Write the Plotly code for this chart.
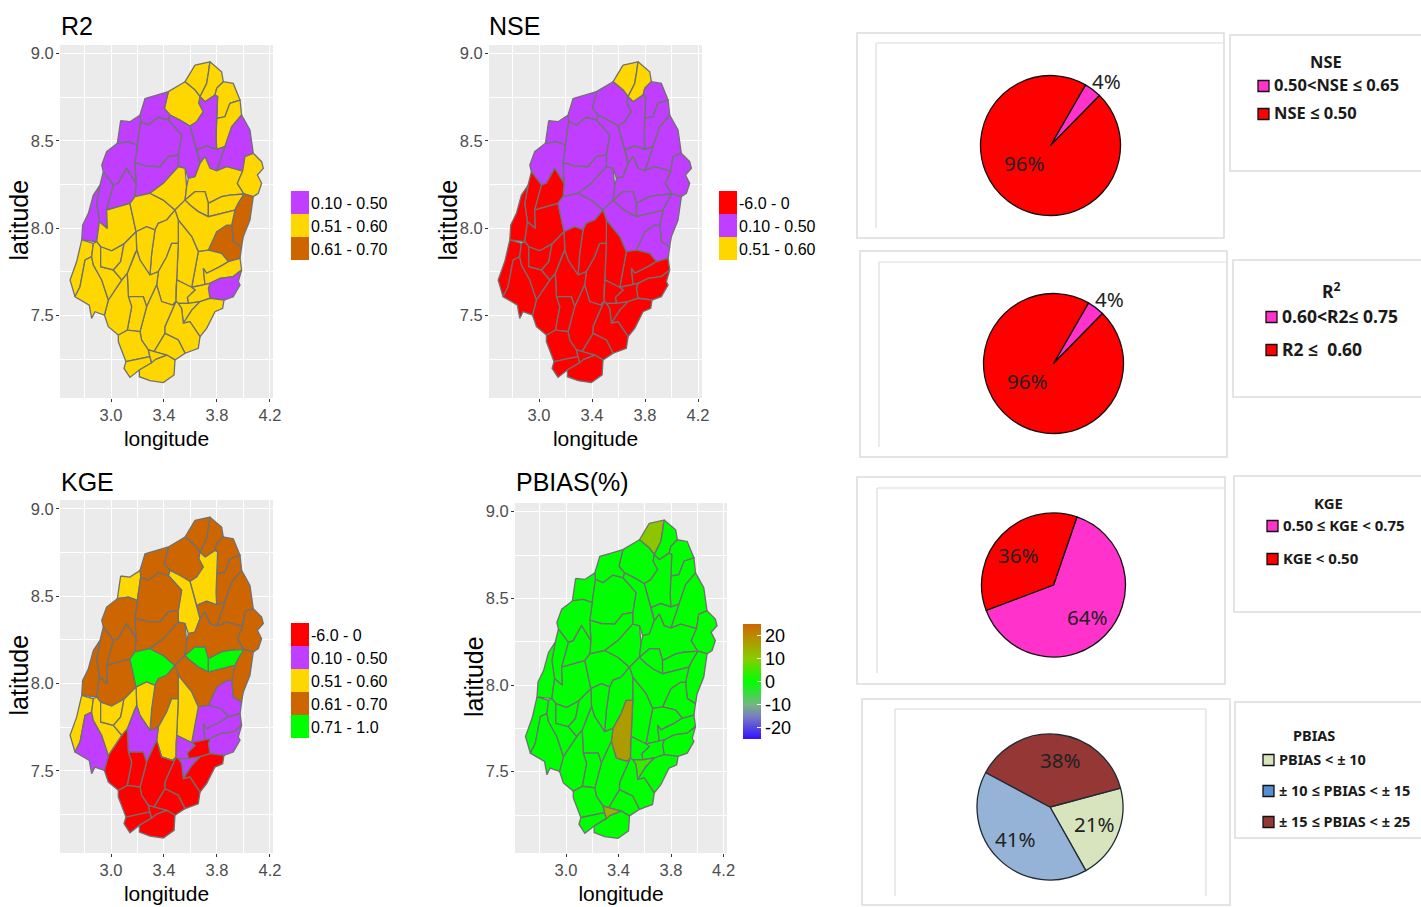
import plotly.graph_objects as go
from plotly.colors import sample_colorscale

# ---- sub-basin outlines as (longitude, latitude) pairs ----
B01 = [(3.634,8.933),(3.747,8.952),(3.735,8.886),(3.722,8.828),(3.672,8.752),(3.634,8.790),(3.559,8.838)]
B02 = [(3.747,8.952),(3.835,8.895),(3.848,8.838),(3.798,8.800),(3.785,8.761),(3.710,8.723),(3.672,8.752),(3.722,8.828),(3.735,8.886)]
B03 = [(3.433,8.781),(3.559,8.838),(3.634,8.790),(3.672,8.752),(3.664,8.714),(3.697,8.666),(3.647,8.609),(3.596,8.584),(3.521,8.618),(3.445,8.647),(3.403,8.685)]
B04 = [(3.798,8.800),(3.848,8.838),(3.923,8.828),(3.974,8.733),(3.898,8.714),(3.860,8.637),(3.798,8.628),(3.805,8.752),(3.785,8.761)]
B05 = [(3.898,8.714),(3.974,8.733),(3.986,8.647),(3.911,8.580),(3.860,8.466),(3.798,8.450),(3.793,8.523),(3.798,8.628),(3.860,8.637)]
B06 = [(3.710,8.723),(3.785,8.761),(3.805,8.752),(3.798,8.628),(3.793,8.523),(3.798,8.450),(3.722,8.470),(3.647,8.447),(3.596,8.584),(3.647,8.609),(3.697,8.666),(3.664,8.714),(3.672,8.752)]
B07 = [(3.986,8.647),(4.049,8.561),(4.074,8.428),(4.011,8.409),(3.994,8.326),(3.873,8.351),(3.798,8.328),(3.860,8.466),(3.911,8.580)]
B08 = [(3.647,8.447),(3.722,8.470),(3.798,8.450),(3.860,8.466),(3.798,8.328),(3.747,8.342),(3.710,8.409),(3.672,8.370),(3.659,8.418)]
B09 = [(3.445,8.647),(3.521,8.618),(3.596,8.584),(3.647,8.447),(3.659,8.418),(3.672,8.370),(3.634,8.294),(3.584,8.285),(3.559,8.342),(3.508,8.351),(3.508,8.418),(3.533,8.533),(3.433,8.618)]
B10 = [(3.219,8.647),(3.257,8.742),(3.345,8.761),(3.433,8.781),(3.403,8.685),(3.445,8.647),(3.433,8.618),(3.357,8.634),(3.282,8.590),(3.224,8.609)]
B11 = [(3.073,8.615),(3.143,8.609),(3.219,8.647),(3.224,8.609),(3.199,8.475),(3.131,8.494),(3.048,8.485)]
B12 = [(3.224,8.609),(3.282,8.590),(3.357,8.634),(3.433,8.618),(3.533,8.533),(3.508,8.418),(3.433,8.409),(3.370,8.351),(3.269,8.355),(3.181,8.374),(3.199,8.475)]
B13 = [(3.181,8.374),(3.269,8.355),(3.370,8.351),(3.433,8.409),(3.508,8.418),(3.508,8.351),(3.395,8.256),(3.294,8.199),(3.181,8.180),(3.189,8.256)]
B14 = [(3.048,8.485),(3.131,8.494),(3.199,8.475),(3.181,8.374),(3.189,8.256),(3.118,8.342),(3.055,8.256),(3.018,8.246),(2.942,8.323),(2.930,8.361),(2.967,8.437)]
B15 = [(2.942,8.323),(3.018,8.246),(2.967,8.103),(2.972,7.998),(2.912,8.036),(2.892,8.141),(2.917,8.246)]
B16 = [(3.018,8.246),(3.055,8.256),(3.118,8.342),(3.189,8.256),(3.181,8.180),(3.143,8.141),(3.055,8.122),(2.967,8.103)]
B17 = [(2.867,8.189),(2.917,8.246),(2.892,8.141),(2.912,8.036),(2.892,7.922),(2.779,7.932),(2.786,8.017),(2.829,8.084)]
B18 = [(2.912,8.036),(2.972,7.998),(2.967,8.103),(3.055,8.122),(3.143,8.141),(3.189,7.979),(3.098,7.909),(3.005,7.870),(2.922,7.893),(2.892,7.922)]
B19 = [(3.143,8.141),(3.181,8.180),(3.294,8.199),(3.395,8.160),(3.483,8.103),(3.420,8.046),(3.357,8.027),(3.332,7.989),(3.269,8.008),(3.189,7.979)]
B20 = [(3.294,8.199),(3.395,8.256),(3.508,8.351),(3.559,8.342),(3.571,8.237),(3.559,8.160),(3.483,8.103),(3.395,8.160)]
B21 = [(3.584,8.285),(3.634,8.294),(3.672,8.370),(3.710,8.409),(3.747,8.342),(3.798,8.328),(3.873,8.351),(3.994,8.326),(3.954,8.256),(4.004,8.195),(3.898,8.189),(3.835,8.180),(3.735,8.141),(3.710,8.208),(3.634,8.208),(3.559,8.160),(3.571,8.237)]
B22 = [(3.559,8.160),(3.634,8.208),(3.710,8.208),(3.735,8.141),(3.735,8.065),(3.659,8.094),(3.596,8.132)]
B23 = [(3.735,8.141),(3.835,8.180),(3.898,8.189),(4.004,8.195),(3.961,8.141),(3.936,8.103),(3.735,8.065)]
B24 = [(3.994,8.326),(4.011,8.409),(4.074,8.428),(4.137,8.380),(4.150,8.342),(4.105,8.304),(4.137,8.256),(4.112,8.199),(4.074,8.180),(4.004,8.195),(3.954,8.256)]
B25 = [(4.004,8.195),(4.074,8.180),(4.049,8.046),(3.999,7.951),(3.986,7.893),(3.923,7.922),(3.911,8.017),(3.936,8.103),(3.961,8.141)]
B26 = [(3.735,7.874),(3.798,7.979),(3.873,8.017),(3.911,8.017),(3.923,7.922),(3.986,7.893),(3.974,7.827),(3.886,7.808),(3.835,7.855)]
B27 = [(3.483,8.103),(3.559,8.160),(3.596,8.132),(3.659,8.094),(3.735,8.065),(3.936,8.103),(3.911,8.017),(3.873,8.017),(3.798,7.979),(3.735,7.874),(3.659,7.865),(3.609,7.951),(3.508,8.046)]
B28 = [(3.659,7.865),(3.735,7.874),(3.835,7.855),(3.886,7.808),(3.823,7.779),(3.722,7.741),(3.697,7.769),(3.710,7.674),(3.609,7.661),(3.647,7.817)]
B29 = [(3.697,7.769),(3.722,7.741),(3.823,7.779),(3.886,7.808),(3.974,7.827),(3.986,7.760),(3.923,7.722),(3.823,7.712),(3.747,7.683),(3.710,7.674)]
B30 = [(3.747,7.683),(3.823,7.712),(3.923,7.722),(3.986,7.760),(3.961,7.693),(3.974,7.674),(3.923,7.607),(3.853,7.588),(3.747,7.598),(3.735,7.655)]
B31 = [(3.609,7.661),(3.710,7.674),(3.747,7.683),(3.735,7.655),(3.747,7.598),(3.672,7.579),(3.584,7.569),(3.576,7.603),(3.634,7.645)]
B33 = [(3.508,8.046),(3.609,7.951),(3.659,7.865),(3.647,7.817),(3.609,7.661),(3.571,7.674),(3.496,7.703),(3.508,7.912),(3.508,7.989)]
B34 = [(3.420,8.046),(3.483,8.103),(3.508,8.046),(3.508,7.912),(3.458,7.912),(3.420,7.836),(3.357,7.750),(3.294,7.731),(3.307,7.855),(3.332,7.989),(3.357,8.027)]
B35 = [(3.189,7.979),(3.269,8.008),(3.332,7.989),(3.307,7.855),(3.294,7.731),(3.219,7.817),(3.194,7.874)]
B36 = [(3.458,7.912),(3.508,7.912),(3.496,7.703),(3.491,7.655),(3.491,7.579),(3.465,7.559),(3.382,7.579),(3.345,7.674),(3.357,7.750),(3.420,7.836)]
B37 = [(3.194,7.874),(3.219,7.817),(3.294,7.731),(3.357,7.750),(3.345,7.674),(3.269,7.550),(3.244,7.607),(3.131,7.607),(3.123,7.741),(3.181,7.855)]
B38 = [(3.496,7.703),(3.571,7.674),(3.609,7.661),(3.634,7.645),(3.576,7.603),(3.584,7.569),(3.508,7.569),(3.491,7.579),(3.491,7.655)]
B39 = [(3.508,7.569),(3.584,7.569),(3.672,7.579),(3.610,7.530),(3.546,7.455),(3.533,7.540)]
B40 = [(3.672,7.579),(3.747,7.598),(3.853,7.588),(3.843,7.540),(3.785,7.521),(3.722,7.426),(3.672,7.378),(3.596,7.464),(3.546,7.455),(3.610,7.530)]
B41 = [(3.345,7.674),(3.382,7.579),(3.465,7.559),(3.491,7.579),(3.408,7.435),(3.408,7.397),(3.325,7.292),(3.282,7.302),(3.231,7.359),(3.219,7.407),(3.269,7.550)]
B42 = [(3.491,7.579),(3.508,7.569),(3.533,7.540),(3.546,7.455),(3.596,7.464),(3.672,7.378),(3.659,7.311),(3.559,7.283),(3.508,7.359),(3.408,7.397),(3.408,7.435)]
B43 = [(3.408,7.397),(3.508,7.359),(3.559,7.283),(3.483,7.245),(3.420,7.273),(3.325,7.292)]
B44 = [(3.131,7.607),(3.244,7.607),(3.269,7.550),(3.219,7.407),(3.123,7.416),(3.156,7.550)]
B45 = [(3.055,7.388),(3.123,7.416),(3.219,7.407),(3.231,7.359),(3.282,7.302),(3.294,7.264),(3.113,7.235),(3.055,7.350)]
B46 = [(2.950,7.502),(2.980,7.588),(3.081,7.703),(3.123,7.741),(3.131,7.607),(3.156,7.550),(3.123,7.416),(3.055,7.388),(2.980,7.435)]
B47 = [(3.113,7.235),(3.294,7.264),(3.307,7.229),(3.214,7.187),(3.143,7.145),(3.098,7.197)]
B48 = [(3.294,7.264),(3.340,7.250),(3.420,7.273),(3.483,7.245),(3.476,7.159),(3.395,7.115),(3.294,7.126),(3.214,7.149),(3.214,7.187),(3.307,7.229)]
B49 = [(2.779,7.932),(2.867,7.912),(2.854,7.836),(2.804,7.817),(2.766,7.664),(2.728,7.607),(2.691,7.703),(2.741,7.808)]
B50 = [(2.804,7.817),(2.854,7.836),(2.867,7.788),(2.930,7.703),(2.980,7.588),(2.950,7.502),(2.879,7.521),(2.854,7.483),(2.836,7.559),(2.728,7.607),(2.766,7.664)]
B51 = [(2.867,7.912),(2.892,7.922),(2.922,7.893),(2.922,7.779),(3.018,7.760),(3.081,7.703),(2.980,7.588),(2.930,7.703),(2.867,7.788),(2.854,7.836)]
B52 = [(2.922,7.893),(3.005,7.870),(3.098,7.909),(3.073,7.808),(3.018,7.760),(2.922,7.779)]
B53 = [(3.098,7.909),(3.189,7.979),(3.194,7.874),(3.181,7.855),(3.123,7.741),(3.081,7.703),(3.018,7.760),(3.073,7.808)]
B54 = [(3.282,7.302),(3.325,7.292),(3.420,7.273),(3.340,7.250),(3.307,7.229),(3.294,7.264)]

BASIN_IDS = [1,2,3,4,5,6,7,8,9,10,11,12,13,14,15,16,17,18,19,20,21,22,23,24,25,26,27,28,29,30,31,33,34,35,36,37,38,39,40,41,42,43,44,45,46,47,48,49,50,51,52,53,54]

# ---- classes of each map ----
C_RED, C_PUR, C_YEL, C_BRN, C_GRN = "#ff0000", "#bf3eff", "#ffd700", "#cd6600", "#00ff00"
R2_LOW = [6,7,8,9,10,11,12,13,14,15,16,17,30]
R2_HIGH = [25,26]
NSE_TOP = [1,2]
NSE_RED = [15,16,17,18,28,29,30,31,33,34,35,36,37,38,39,40,41,42,43,44,45,46,47,48,49,50,51,52,53,54]
KGE_RED = [31,40,41,42,43,44,45,46,47,48,54]
KGE_PUR = [26,28,29,30,37,38,39,50]
KGE_YEL = [6,9,11,33,35,36,49,51,52,53]
KGE_GRN = [19,22,23]
PBIAS_VALUES = {1: 11, 36: 17, 39: 4, 54: 14}

R2_LABELS = ["0.10 - 0.50", "0.51 - 0.60", "0.61 - 0.70"]
NSE_LABELS = ["-6.0 - 0", "0.10 - 0.50", "0.51 - 0.60"]
KGE_LABELS = ["-6.0 - 0", "0.10 - 0.50", "0.51 - 0.60", "0.61 - 0.70", "0.71 - 1.0"]
PBIAS_TICKS = [20, 10, 0, -10, -20]
PBIAS_TICKTEXT = ["20", "10", "0", "-10", "-20"]
LON_TICKS = [3.0, 3.4, 3.8, 4.2]
LON_MINOR = [2.8, 3.2, 3.6, 4.0]
LAT_TICKS = [7.5, 8.0, 8.5, 9.0]
LAT_MINOR = [7.25, 7.75, 8.25, 8.75]

NSE_PIE = [4, 96]
R2_PIE = [4, 96]
KGE_PIE = [64, 36]
PBIAS_PIE = [21, 41, 38]

W, H = 1421, 907
SANS = "Liberation Sans, Arial"
OFFICE = "Noto Sans, Open Sans"
PBIAS_SCALE = [[0, "#3311ff"], [0.2, "#7a7fc0"], [0.3, "#72b880"], [0.5, "#00ff00"],
               [0.7, "#88cc00"], [0.9, "#bb8800"], [1, "#cc6600"]]

def r2_col(i):
    return C_PUR if i in R2_LOW else C_BRN if i in R2_HIGH else C_YEL
def nse_col(i):
    return C_YEL if i in NSE_TOP else C_RED if i in NSE_RED else C_PUR
def kge_col(i):
    for ids, c in ((KGE_RED, C_RED), (KGE_PUR, C_PUR), (KGE_YEL, C_YEL), (KGE_GRN, C_GRN)):
        if i in ids:
            return c
    return C_BRN
def pbias_col(i):
    return sample_colorscale(PBIAS_SCALE, [(PBIAS_VALUES.get(i, 0) + 25) / 50])[0]

PANELS = [
    dict(t="R2", col=r2_col, box=(60, 273, 45, 398), xr=(2.615, 4.223), yr=(7.027, 9.048), tx=60, ty=26, lat_x=18),
    dict(t="NSE", col=nse_col, box=(489, 702, 45, 398), xr=(2.622, 4.230), yr=(7.027, 9.048), tx=488, ty=26, lat_x=447),
    dict(t="KGE", col=kge_col, box=(60, 273, 500, 853), xr=(2.615, 4.223), yr=(7.029, 9.050), tx=60, ty=482, lat_x=18),
    dict(t="PBIAS(%)", col=pbias_col, box=(515, 727, 503, 853), xr=(2.611, 4.226), yr=(7.031, 9.050), tx=515, ty=482, lat_x=474),
]

fig = go.Figure()
layout = dict(width=W, height=H, margin=dict(l=0, r=0, t=0, b=0, autoexpand=False),
              paper_bgcolor="white", plot_bgcolor="#ebebeb", showlegend=False,
              annotations=[], shapes=[], hovermode=False)

def px(x): return x / W
def py(y): return 1 - y / H
def note(x, y, text, size, font=SANS, color="#000000", anchor="left", bold=False, **kw):
    layout["annotations"].append(dict(xref="paper", yref="paper", x=px(x), y=py(y), text=f"<b>{text}</b>" if bold else text,
                                      showarrow=False, xanchor=anchor, yanchor="middle", borderpad=0,
                                      font=dict(family=font, size=size, color=color), **kw))
def rect(x0, y0, x1, y1, fill="rgba(0,0,0,0)", line="#dcdcdc", lw=1.5):
    layout["shapes"].append(dict(type="rect", xref="paper", yref="paper", x0=px(x0), x1=px(x1), y0=py(y0), y1=py(y1),
                                 fillcolor=fill, line=dict(color=line, width=lw)))
def hv(x0, y0, x1, y1):
    layout["shapes"].append(dict(type="line", xref="paper", yref="paper", x0=px(x0), x1=px(x1), y0=py(y0), y1=py(y1),
                                 line=dict(color="#dcdcdc", width=1.2)))

for n, p in enumerate(PANELS, 1):
    xa, ya = ("x", "y") if n == 1 else (f"x{n}", f"y{n}")
    l, r, t, b = p["box"]
    common = dict(showgrid=True, gridcolor="white", gridwidth=1.3, zeroline=False, showline=False, ticks="outside",
                  ticklen=3, tickcolor="#333333", tickfont=dict(family=SANS, size=16.5, color="#4d4d4d"), fixedrange=True,
                  ticklabelstandoff=-1)
    layout["xaxis" + ("" if n == 1 else str(n))] = dict(
        domain=[px(l), px(r)], range=p["xr"], anchor=ya, tickvals=LON_TICKS, tickformat=".1f",
        minor=dict(tickvals=LON_MINOR, showgrid=True, gridcolor="white", gridwidth=0.7, ticks=""),
        title=dict(text="longitude", font=dict(family=SANS, size=21, color="black"), standoff=8), **common)
    layout["yaxis" + ("" if n == 1 else str(n))] = dict(
        domain=[py(b), py(t)], range=p["yr"], anchor=xa, tickvals=LAT_TICKS, tickformat=".1f",
        minor=dict(tickvals=LAT_MINOR, showgrid=True, gridcolor="white", gridwidth=0.7, ticks=""), **common)
    for i in BASIN_IDS:
        pts = globals()[f"B{i:02d}"]
        pts = pts + pts[:1]
        fig.add_trace(go.Scatter(x=[q[0] for q in pts], y=[q[1] for q in pts], xaxis=xa, yaxis=ya, mode="lines",
                                 fill="toself", fillcolor=p["col"](i), line=dict(color="#707070", width=1.3),
                                 hoverinfo="skip"))
    note(p["tx"], p["ty"], p["t"], 25)
    note(p["lat_x"], (t + b) / 2 - 1, "latitude", 25, anchor="center", textangle=-90)

def class_legend(x, y0, labels, colors):
    for k, (lab, c) in enumerate(zip(labels, colors)):
        rect(x, y0 + 23 * k, x + 18, y0 + 23 * (k + 1), fill=c, line=c, lw=0)
        note(x + 19, y0 + 23 * k + 12, lab, 16)
class_legend(291, 191, R2_LABELS, [C_PUR, C_YEL, C_BRN])
class_legend(719, 191, NSE_LABELS, [C_RED, C_PUR, C_YEL])
class_legend(291, 623, KGE_LABELS, [C_RED, C_PUR, C_YEL, C_BRN, C_GRN])

fig.add_trace(go.Scatter(x=[3.5, 3.5], y=[8, 8], xaxis="x4", yaxis="y4", mode="markers", hoverinfo="skip",
                         marker=dict(size=1, opacity=0, color=[-25, 25], cmin=-25, cmax=25, colorscale=PBIAS_SCALE,
                                     colorbar=dict(thickness=18, thicknessmode="pixels", len=115, lenmode="pixels",
                                                   x=px(743), xanchor="left", y=py(624), yanchor="top", xpad=0, ypad=0,
                                                   outlinewidth=0, ticks="inside", tickcolor="white", ticklen=4,
                                                   tickvals=PBIAS_TICKS, ticktext=PBIAS_TICKTEXT,
                                                   tickfont=dict(family=SANS, size=18, color="black")))))

MAGENTA = "#ff33cc"
def pie(vals, colors, cx, cy, r, rot, lw=1.3, lc="#111111"):
    fig.add_trace(go.Pie(values=vals, sort=False, direction="clockwise", rotation=rot, textinfo="none",
                         marker=dict(colors=colors, line=dict(color=lc, width=lw)), hoverinfo="skip",
                         domain=dict(x=[px(cx - r), px(cx + r)], y=[py(cy + r), py(cy - r)])))
pie(NSE_PIE, [MAGENTA, C_RED], 1050.5, 145.5, 70, 30)
pie(R2_PIE, [MAGENTA, C_RED], 1053.5, 363.5, 70, 30)
pie(KGE_PIE, [MAGENTA, C_RED], 1053.5, 585, 72, 19)
pie(PBIAS_PIE, ["#d7e4bd", "#95b3d7", "#953735"], 1050, 807, 73, 75, lc="#1f2a33")

for xx, yy, v in ((1106, 81, NSE_PIE[0]), (1024, 163, NSE_PIE[1]), (1109, 299, R2_PIE[0]), (1027, 381, R2_PIE[1]),
                  (1087, 617, KGE_PIE[0]), (1018, 555, KGE_PIE[1]), (1094, 824, PBIAS_PIE[0]), (1015, 839, PBIAS_PIE[1]), (1060, 760, PBIAS_PIE[2])):
    note(xx, yy, f"{v}%", 20.5, font=OFFICE, color="#222222", anchor="center")

rect(857, 33, 1224, 238); hv(876, 43, 876, 228); hv(876, 43, 1224, 43)
rect(860, 251, 1227, 457); hv(879, 262, 879, 447); hv(879, 262, 1227, 262)
rect(857, 477, 1225, 684); hv(877, 488, 877, 673); hv(877, 488, 1225, 488)
rect(862, 699, 1230, 905); hv(895, 709, 895, 896); hv(895, 709, 1206, 709); hv(1206, 709, 1206, 896)
rect(1230, 35, 1425, 171); rect(1233, 260, 1425, 397); rect(1234, 476, 1425, 612); rect(1235, 702, 1425, 838)

def pie_legend(title, tx, ty, sx, size, items):
    note(tx, ty, title, size, font=OFFICE, color="#1a1a1a", anchor="center", bold=True)
    for lab, y, c in items:
        rect(sx, y - 5.5, sx + 11, y + 5.5, fill=c, line="#111111", lw=1.3)
        note(sx + 15, y - 1, lab, size, font=OFFICE, color="#1a1a1a", bold=True)
pie_legend("NSE", 1326, 61, 1258, 16.5, [("0.50&lt;NSE ≤ 0.65", 86, MAGENTA), ("NSE ≤ 0.50", 114, C_RED)])
pie_legend("R<sup>2</sup>", 1331, 290, 1266, 17.5, [("0.60&lt;R2≤ 0.75", 317, MAGENTA), ("R2 ≤  0.60", 350, C_RED)])
pie_legend("KGE", 1328, 503, 1267, 15, [("0.50 ≤ KGE &lt; 0.75", 526, MAGENTA), ("KGE &lt; 0.50", 559, C_RED)])
pie_legend("PBIAS", 1314, 735, 1263, 14.5, [("PBIAS &lt; ± 10", 760, "#d7e4bd"), ("± 10 ≤ PBIAS &lt; ± 15", 791, "#558ed5"),
                                             ("± 15 ≤ PBIAS &lt; ± 25", 822, "#953735")])

fig.update_layout(**layout)
fig.write_html("out.html", post_script="document.body.style.margin='0';document.body.style.overflow='hidden';",
               config=dict(displayModeBar=False))
